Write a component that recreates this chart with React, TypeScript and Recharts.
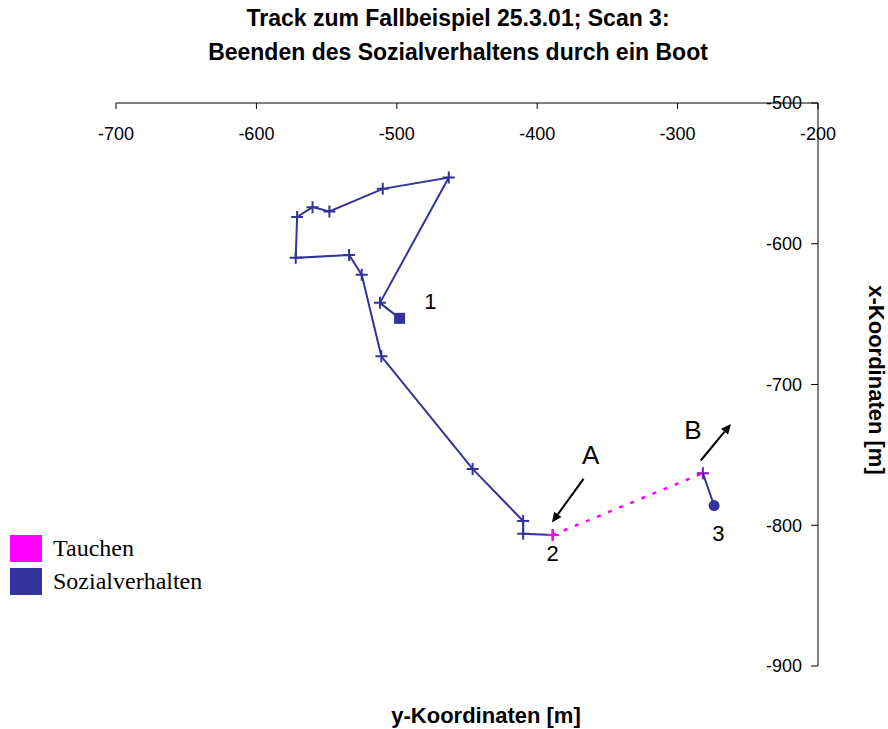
import { ScatterChart, Scatter, XAxis, YAxis, ReferenceDot, ReferenceLine } from 'recharts'

document.body.style.margin = '0'

const BLUE = '#333399'
const MAGENTA = '#ff00ff'
const FONT = '"Liberation Sans", Arial, sans-serif'

// track while social behaviour (Sozialverhalten), start at point 1
const sozialX = [-498, -512, -463, -510, -548, -560, -571, -572, -534, -525, -511, -446, -410, -410, -389]
const sozialY = [-653, -642, -553, -561, -577, -574, -581, -610, -608, -622, -680, -760, -797, -806, -807]

// diving (Tauchen) from point 2 to B
const tauchenX = [-389, -282]
const tauchenY = [-807, -763]

// last piece from B to point 3
const endX = [-282, -274]
const endY = [-763, -786]

const xTicks = [-700, -600, -500, -400, -300, -200]
const yTicks = [-500, -600, -700, -800, -900]

const markLabels = ['1', '2', '3', 'A', 'B']
const markX = [-476, -389, -271, -362, -289]
const markY = [-641, -820, -806, -750, -732]
const markSize = [22, 22, 22, 26, 26]

const arrowX1 = [-367, -283.5]
const arrowY1 = [-767, -754]
const arrowX2 = [-389.5, -262]
const arrowY2 = [-798, -728]

const sozialData = sozialX.map((x, i) => ({ x, y: sozialY[i] }))
const tauchenData = tauchenX.map((x, i) => ({ x, y: tauchenY[i] }))
const endData = endX.map((x, i) => ({ x, y: endY[i] }))

const plus = (cx: number, cy: number, color: string, opacity = 1) => (
  <path
    d={`M${cx - 6},${cy}H${cx + 6}M${cx},${cy - 6}V${cy + 6}`}
    stroke={color}
    strokeWidth={2}
    strokeOpacity={opacity}
    fill="none"
  />
)

const SozialShape = (p: any) => {
  if (p.payload && p.payload.x === sozialX[0] && p.payload.y === sozialY[0]) {
    return <rect x={p.cx - 5.5} y={p.cy - 5.5} width={11} height={11} fill={BLUE} />
  }
  return plus(p.cx, p.cy, BLUE)
}

const TauchenShape = (p: any) => plus(p.cx, p.cy, MAGENTA)

const EndShape = (p: any) => {
  if (p.payload && p.payload.x === endX[endX.length - 1]) {
    return <circle cx={p.cx} cy={p.cy} r={5.5} fill={BLUE} />
  }
  return plus(p.cx, p.cy, BLUE, 0.6)
}

const Arrow = (p: any) => {
  const { x1, y1, x2, y2 } = p
  const a = Math.atan2(y2 - y1, x2 - x1)
  const len = 10
  const w = 4.5
  const bx = x2 - len * Math.cos(a)
  const by = y2 - len * Math.sin(a)
  const px = -Math.sin(a) * w
  const py = Math.cos(a) * w
  return (
    <g>
      <line x1={x1} y1={y1} x2={bx} y2={by} stroke="#000" strokeWidth={2} />
      <polygon points={`${x2},${y2} ${bx + px},${by + py} ${bx - px},${by - py}`} fill="#000" />
    </g>
  )
}

const tickStyle = { fill: '#000', fontSize: 18, fontFamily: FONT }

export default function App() {
  return (
    <div style={{ position: 'relative', width: 888, height: 729, background: '#fff', fontFamily: FONT }}>
      <div
        style={{
          position: 'absolute', left: 58, top: 1, width: 800, textAlign: 'center',
          fontWeight: 'bold', fontSize: 23, lineHeight: '34px', color: '#000',
        }}
      >
        Track zum Fallbeispiel 25.3.01; Scan 3:
        <br />
        Beenden des Sozialverhaltens durch ein Boot
      </div>

      <ScatterChart width={888} height={729} margin={{ top: 103, left: 116, right: 70, bottom: 63 }}>
        <XAxis
          type="number"
          dataKey="x"
          orientation="top"
          mirror
          domain={[-700, -200]}
          ticks={xTicks}
          interval={0}
          tickSize={6}
          tickMargin={18}
          axisLine={{ stroke: '#000' }}
          tickLine={{ stroke: '#000' }}
          tick={tickStyle}
          allowDataOverflow
        />
        <YAxis
          type="number"
          dataKey="y"
          orientation="right"
          mirror
          domain={[-900, -500]}
          ticks={yTicks}
          interval={0}
          tickSize={7}
          tickMargin={9}
          axisLine={{ stroke: '#000' }}
          tickLine={{ stroke: '#000' }}
          tick={tickStyle}
          allowDataOverflow
        />
        <Scatter
          name="Sozialverhalten"
          data={sozialData}
          fill={BLUE}
          line={{ stroke: BLUE, strokeWidth: 2 }}
          lineType="joint"
          shape={SozialShape}
          isAnimationActive={false}
        />
        <Scatter
          name="Tauchen"
          data={tauchenData}
          fill={MAGENTA}
          line={{ stroke: MAGENTA, strokeWidth: 2.5, strokeDasharray: '4 8' }}
          lineType="joint"
          shape={TauchenShape}
          isAnimationActive={false}
        />
        <Scatter
          name="Sozialverhalten Ende"
          data={endData}
          fill={BLUE}
          line={{ stroke: BLUE, strokeWidth: 2 }}
          lineType="joint"
          shape={EndShape}
          isAnimationActive={false}
        />
        {arrowX1.map((x, i) => (
          <ReferenceLine
            key={'arrow' + i}
            segment={[{ x, y: arrowY1[i] }, { x: arrowX2[i], y: arrowY2[i] }]}
            shape={Arrow}
          />
        ))}
        {markLabels.map((t, i) => (
          <ReferenceDot
            key={'mark' + i}
            x={markX[i]}
            y={markY[i]}
            r={0}
            shape={(p: any) => (
              <text
                x={p.cx}
                y={p.cy}
                textAnchor="middle"
                dominantBaseline="central"
                fontSize={markSize[i]}
                fontFamily={FONT}
                fill="#000"
              >
                {t}
              </text>
            )}
          />
        ))}
      </ScatterChart>

      <div
        style={{
          position: 'absolute', left: 286, top: 702, width: 400, textAlign: 'center',
          fontWeight: 'bold', fontSize: 22, lineHeight: '28px', color: '#000',
        }}
      >
        y-Koordinaten [m]
      </div>
      <div
        style={{
          position: 'absolute', left: 726, top: 366, width: 300, height: 28, textAlign: 'center',
          fontWeight: 'bold', fontSize: 22, lineHeight: '28px', color: '#000',
          transform: 'rotate(90deg)', transformOrigin: 'center',
        }}
      >
        x-Koordinaten [m]
      </div>

      <div style={{ position: 'absolute', left: 10, top: 532, fontFamily: '"Liberation Serif", "Times New Roman", serif', fontSize: 24, color: '#000' }}>
        {[
          { name: 'Tauchen', color: MAGENTA },
          { name: 'Sozialverhalten', color: BLUE },
        ].map((e) => (
          <div key={e.name} style={{ display: 'flex', alignItems: 'center', height: 33 }}>
            <div style={{ width: 32, height: 27, background: e.color, marginRight: 11 }} />
            <span style={{ lineHeight: '27px' }}>{e.name}</span>
          </div>
        ))}
      </div>
    </div>
  )
}
